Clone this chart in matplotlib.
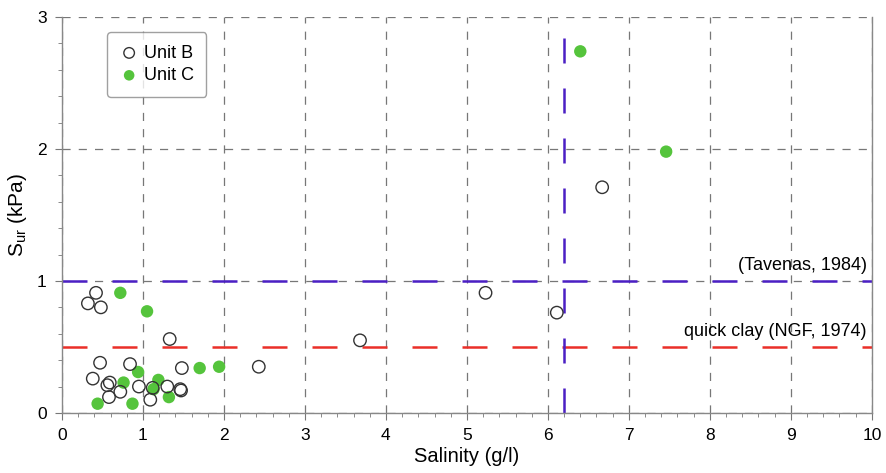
import numpy as np
import matplotlib.pyplot as plt

plt.rcParams['font.family'] = ['Liberation Sans', 'DejaVu Sans']

# Unit B samples (open circles)
sal_b = [0.42, 0.32, 0.48, 1.33, 0.47, 0.84, 0.38, 0.59, 0.56, 0.72, 0.58,
         0.95, 1.12, 1.09, 1.30, 1.46, 1.47, 1.48, 2.43, 3.68, 5.23, 6.11, 6.67]
sur_b = [0.91, 0.83, 0.80, 0.56, 0.38, 0.37, 0.26, 0.23, 0.21, 0.16, 0.12,
         0.20, 0.19, 0.10, 0.20, 0.18, 0.17, 0.34, 0.35, 0.55, 0.91, 0.76, 1.71]

# Unit C samples (filled green)
sal_c = [0.72, 1.05, 0.94, 0.76, 0.44, 0.87, 1.19, 1.13, 1.32, 1.70, 1.94, 6.40, 7.46]
sur_c = [0.91, 0.77, 0.31, 0.23, 0.07, 0.07, 0.25, 0.18, 0.12, 0.34, 0.35, 2.74, 1.98]

# reference limits
tavenas_sur = 1.0
ngf_sur = 0.5
salinity_limit = 6.2

fig = plt.figure(figsize=(8.87, 4.73), dpi=100)
ax = fig.add_axes([0.0699, 0.127, 0.913, 0.837])

ax.set_xlim(0, 10)
ax.set_ylim(0, 3)
ax.set_xticks(np.arange(0, 11, 1))
ax.set_yticks([0, 1, 2, 3])
ax.set_xticks(np.arange(0, 10.01, 0.2), minor=True)
ax.set_yticks(np.arange(0, 3.01, 0.2), minor=True)
ax.tick_params(which='major', length=5, color='#777777', labelsize=12.5, pad=6)
ax.tick_params(which='minor', length=3, color='#777777')
ax.grid(True, which='major', color='#777777', linestyle=(0, (6.5, 6.5)), linewidth=0.9)
for side in ['left', 'bottom', 'right']:
    ax.spines[side].set_color('#888888')
    ax.spines[side].set_linewidth(1.0)
ax.spines['top'].set_visible(False)

ax.axhline(tavenas_sur, color='#4b1fc4', linestyle=(0, (10, 10)), linewidth=1.8, zorder=2)
ax.axhline(ngf_sur, color='#ea2f28', linestyle=(0, (10, 10)), linewidth=1.8, zorder=2)
ax.axvline(salinity_limit, color='#4b1fc4', linestyle=(0, (10, 10)), linewidth=1.8, zorder=2)

ax.scatter(sal_b, sur_b, s=80, facecolors='none', edgecolors='#333333',
           linewidths=1.0, label='Unit B', zorder=4)
ax.scatter(sal_c, sur_c, s=80, facecolors='#55c43c', edgecolors='none',
           label='Unit C', zorder=3)

ax.text(9.94, 1.05, '(Tavenas, 1984)', ha='right', va='bottom', fontsize=13)
ax.text(9.94, 0.55, 'quick clay (NGF, 1974)', ha='right', va='bottom', fontsize=13)

ax.set_xlabel('Salinity (g/l)', fontsize=14.5, labelpad=3)
ax.set_ylabel('S$_{\\mathregular{ur}}$ (kPa)', fontsize=15, labelpad=6)

leg = ax.legend(loc='upper left', bbox_to_anchor=(0.045, 0.985), fontsize=13,
                frameon=True, fancybox=True, handletextpad=0.3, borderpad=0.7,
                handlelength=1.0, labelspacing=0.3, markerscale=0.85)
leg.get_frame().set_edgecolor('#888888')
leg.get_frame().set_linewidth(1.0)

fig.savefig('out.png', dpi=100)
